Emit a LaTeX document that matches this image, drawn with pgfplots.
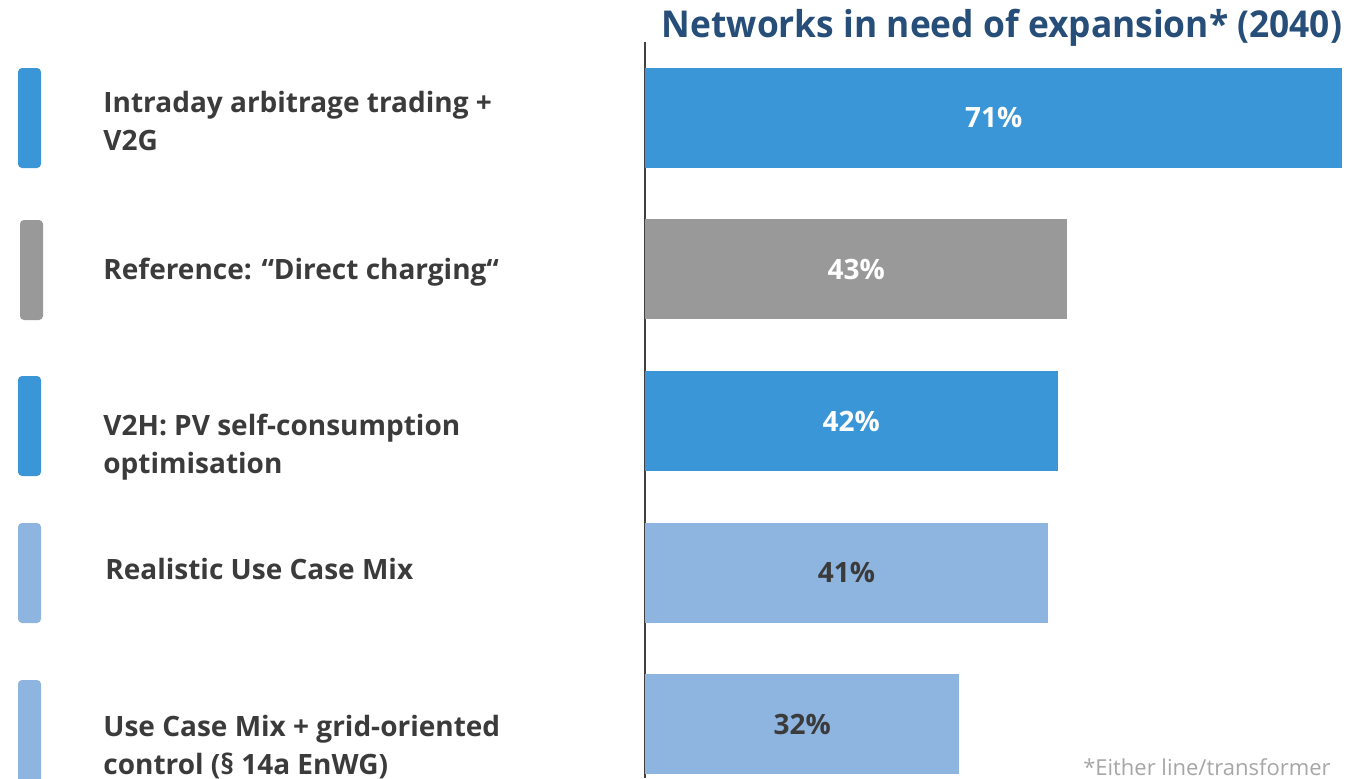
\documentclass[border=0pt]{standalone}
\usepackage{pgfplots}
\pgfplotsset{compat=1.18}
\usepackage{pgfplotstable}
\usepackage{fontspec}
\setmainfont{Open Sans}

\definecolor{barblue}{HTML}{3A96D6}
\definecolor{bargray}{HTML}{999999}
\definecolor{barlight}{HTML}{8DB5E0}
\definecolor{titleblue}{HTML}{264E78}
\definecolor{txt}{HTML}{3B3B3B}
\definecolor{notegray}{HTML}{A6A6A6}

% share of networks in need of expansion, top to bottom
\pgfplotstableread{
idx val
0 71
1 43
2 42
3 41
4 32
}\shares

\begin{document}
\begin{tikzpicture}
% picture laid out in pixels of the 1366x778 reference (1px = 0.5pt)
\begin{scope}[x=0.5pt, y=-0.5pt]
\path[use as bounding box] (0,0) rectangle (1366,778);
\clip (0,0) rectangle (1366,778);
% colour markers at the left
\fill[barblue,  rounded corners=2pt] (18,68)  rectangle (41,168);
\fill[bargray,  rounded corners=2pt] (20,220) rectangle (43,320);
\fill[barblue,  rounded corners=2pt] (18,376) rectangle (41,476);
\fill[barlight, rounded corners=2pt] (18,523) rectangle (41,623);
\fill[barlight, rounded corners=2pt] (18,680) rectangle (41,800);
\begin{scope}[every node/.style={anchor=west, align=left, text=txt,
    font=\fontsize{14}{19}\selectfont\bfseries, inner sep=0pt}]
\node at (103,121) {Intraday arbitrage trading +\\V2G};
\node at (103,272) {Reference: “Direct charging“};
\node at (103,447) {V2H: PV self-consumption\\optimisation};
\node at (105,569) {Realistic Use Case Mix};
\node at (103,747) {Use Case Mix + grid-oriented\\control (§ 14a EnWG)};
\end{scope}
\node[anchor=center, text=titleblue, inner sep=0pt,
  font=\fontsize{18.5}{22}\selectfont\bfseries] at (1002,28)
  {\scalebox{0.955}[1]{Networks in need of expansion* (2040)}};
\node[anchor=east, text=notegray, inner sep=0pt,
  font=\fontsize{11}{12}\selectfont] at (1331,767) {*Either line/transformer};
\end{scope}

\begin{axis}[
    at={(322.5pt,-21pt)}, anchor=north west,
    scale only axis,
    width=360.5pt, height=368pt,
    xmin=0, xmax=73.4,
    ymin=-0.5, ymax=4.354,
    y dir=reverse,
    axis x line=none,
    axis y line*=left,
    y axis line style={draw=black!75, line width=0.75pt},
    xtick=\empty, ytick=\empty,
    xbar, bar width=50pt, bar shift=0pt,
    clip=false,
    /pgf/number format/assume math mode=true,
]
\addplot[draw=none, fill=barblue]  coordinates {(71,0)};
\addplot[draw=none, fill=bargray]  coordinates {(43,1)};
\addplot[draw=none, fill=barblue]  coordinates {(42,2)};
\addplot[draw=none, fill=barlight] coordinates {(41,3)};
\addplot[draw=none, fill=barlight] coordinates {(32,4)};
% value labels in the middle of each bar
\addplot[xbar=false, only marks, mark=none, restrict y to domain=0:2,
  point meta=explicit,
  nodes near coords={\pgfmathprintnumber{\pgfplotspointmeta}\%},
  every node near coord/.append style={anchor=center, text=white,
    font=\fontsize{14}{16}\selectfont\bfseries}]
  table[x expr=\thisrow{val}/2, y=idx, meta=val] {\shares};
\addplot[xbar=false, only marks, mark=none, restrict y to domain=3:4,
  point meta=explicit,
  nodes near coords={\pgfmathprintnumber{\pgfplotspointmeta}\%},
  every node near coord/.append style={anchor=center, text=txt,
    font=\fontsize{14}{16}\selectfont\bfseries}]
  table[x expr=\thisrow{val}/2, y=idx, meta=val] {\shares};
\end{axis}
\end{tikzpicture}
\end{document}
